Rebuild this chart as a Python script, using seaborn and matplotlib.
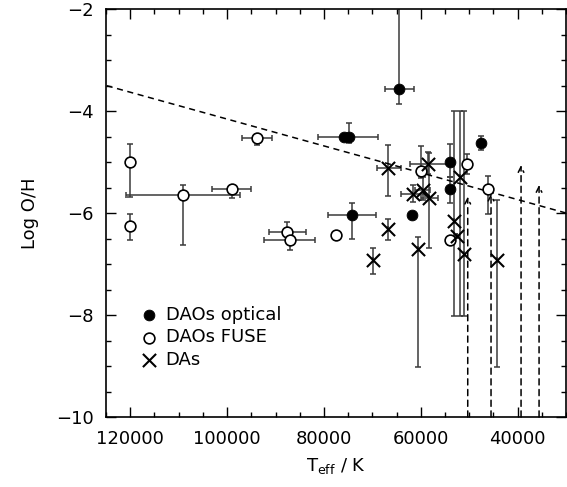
import numpy as np
import pandas as pd
import seaborn as sns
import matplotlib.pyplot as plt
from matplotlib.ticker import MultipleLocator

# DAOs optical (filled circles)
opt_T = [75800, 74750, 64420, 74260, 61740, 53950, 53950, 47550]
opt_logOH = [-4.50, -4.50, -3.57, -6.03, -6.03, -4.99, -5.53, -4.63]
opt_Tlo = [0, 5990, 3090, 4960, 0, 0, 0, 0]
opt_Thi = [0, 6470, 2960, 4820, 0, 0, 0, 0]
opt_ylo = [0, 0.13, 0.29, 0.47, 0, 0.30, 0.28, 0.13]
opt_yhi = [0, 0.27, 2.00, 0.22, 0, 0.34, 0.24, 0.14]

# DAOs FUSE (open circles)
fuse_T = [120000, 109160, 99040, 93880, 120000, 87550, 87000, 77500, 50510, 46170, 59940, 53950]
fuse_logOH = [-4.99, -5.65, -5.53, -4.52, -6.25, -6.38, -6.52, -6.44, -5.03, -5.53, -5.17, -6.52]
fuse_Tlo = [0, 11830, 4050, 3220, 0, 3790, 5160, 0, 0, 0, 0, 0]
fuse_Thi = [0, 11770, 4010, 3100, 0, 3790, 5310, 0, 0, 0, 0, 0]
fuse_ylo = [0.69, 0.98, 0.18, 0.15, 0.28, 0, 0.21, 0, 0.20, 0.48, 0.15, 0.11]
fuse_yhi = [0.34, 0.19, 0.05, 0, 0.24, 0.21, 0, 0, 0.19, 0.26, 0.48, 0]

# DAs (crosses)
da_T = [66700, 58560, 59600, 61660, 58230, 66700, 69800, 60500, 44310, 53130, 51890, 52500, 51000]
da_logOH = [-5.11, -5.03, -5.55, -5.63, -5.71, -6.32, -6.93, -6.71, -6.93, -6.15, -5.30, -6.45, -6.80]
da_Tlo = [2560, 4610, 1500, 2530, 1860, 0, 0, 0, 0, 0, 0, 0, 0]
da_Thi = [2400, 3650, 1500, 2420, 1770, 0, 0, 0, 0, 0, 0, 0, 0]
da_ylo = [0.56, 0.20, 0.20, 0.16, 0.98, 0.21, 0.27, 2.30, 2.08, 1.87, 2.72, 0, 1.22]
da_yhi = [0.44, 0.23, 0.26, 0.17, 0.89, 0.20, 0.24, 0.23, 1.18, 2.15, 1.30, 0, 2.80]

# limits (dashed arrows)
lim_T = [50300, 45490, 39290, 35570]
lim_top = [-5.68, -5.62, -5.06, -5.45]

# trend line
trend_T = [125000, 30000]
trend_logOH = [-3.5, -6.0]

sns.set_style("ticks", {"axes.edgecolor": "black", "text.color": "black",
                        "xtick.color": "black", "ytick.color": "black",
                        "axes.labelcolor": "black"})
plt.rcParams['font.family'] = ['DejaVu Sans']
plt.rcParams['font.size'] = 13

fig = plt.figure(figsize=(5.67, 4.87), dpi=100)
ax = fig.add_axes([0.187, 0.1437, 0.8113, 0.8378])

ebc = '#3a3a3a'
for T, y, tl, th, yl, yh in [(opt_T, opt_logOH, opt_Tlo, opt_Thi, opt_ylo, opt_yhi),
                            (fuse_T, fuse_logOH, fuse_Tlo, fuse_Thi, fuse_ylo, fuse_yhi),
                            (da_T, da_logOH, da_Tlo, da_Thi, da_ylo, da_yhi)]:
    ax.errorbar(T, y, xerr=[tl, th], yerr=[yl, yh], fmt='none', ecolor=ebc,
                elinewidth=1.1, capsize=2.5, capthick=1.1, zorder=1)

for t, top in zip(lim_T, lim_top):
    ax.annotate('', xy=(t, top), xytext=(t, -10),
                arrowprops=dict(arrowstyle='->', linestyle=(0, (4, 3)), color='black',
                                lw=1.1, mutation_scale=10, shrinkA=0, shrinkB=0))

sns.lineplot(x=trend_T, y=trend_logOH, ax=ax, color='black', lw=1.1,
             linestyle=(0, (4, 3)), zorder=2)

sns.scatterplot(x=opt_T, y=opt_logOH, ax=ax, marker='o', s=60, color='black',
                edgecolor='black', label='DAOs optical', zorder=3)
sns.scatterplot(x=fuse_T, y=fuse_logOH, ax=ax, marker='o', s=60, facecolor='white',
                edgecolor='black', linewidth=1.2, label='DAOs FUSE', zorder=3)
sns.scatterplot(x=da_T, y=da_logOH, ax=ax, marker='x', s=90, color='black',
                linewidth=1.5, label='DAs', zorder=3)

ax.set_xlim(125000, 30000)
ax.set_ylim(-10, -2)
ax.xaxis.set_major_locator(MultipleLocator(20000))
ax.xaxis.set_minor_locator(MultipleLocator(5000))
ax.yaxis.set_major_locator(MultipleLocator(2))
ax.yaxis.set_minor_locator(MultipleLocator(0.5))
ax.tick_params(which='both', direction='in', top=True, right=True, width=1,
               colors='black')
ax.tick_params(which='major', length=7, pad=9)
ax.tick_params(which='minor', length=3.5)
for s in ax.spines.values():
    s.set_linewidth(1.2)
    s.set_color('black')

ax.set_xlabel(r'T$_{\mathrm{eff}}$ / K', labelpad=6, color='black')
ax.set_ylabel('Log O/H', labelpad=12, color='black')

leg = ax.legend(loc='upper left', bbox_to_anchor=(0.055, 0.29), frameon=False,
                handletextpad=0.3, labelspacing=0.25, borderaxespad=0, handlelength=1.2)
for txt in leg.get_texts():
    txt.set_color('black')

plt.savefig('out.png', dpi=100)
